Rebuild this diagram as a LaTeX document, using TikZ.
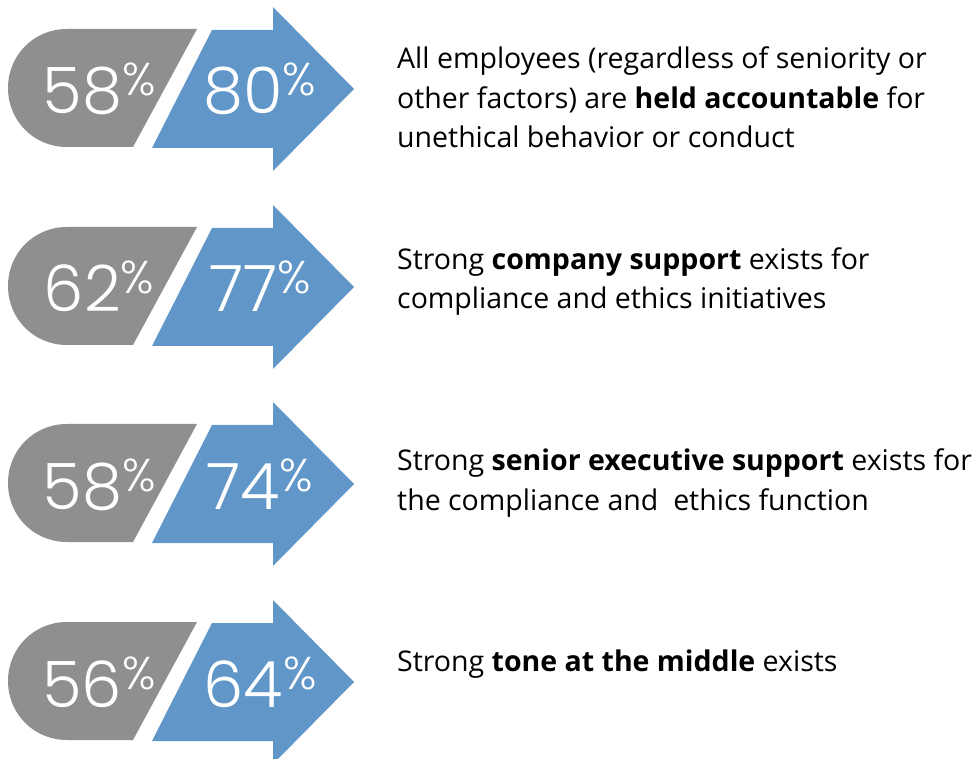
\documentclass[tikz,border=0pt]{standalone}
\usepackage{fontspec}
\setmainfont{Open Sans}
\newfontfamily\numfont{Poppins Light}
\definecolor{graybox}{HTML}{8F8F8F}
\definecolor{bluebox}{HTML}{6096C8}
\newcommand\pctnum[1]{#1\raisebox{18pt}{\fontsize{46}{46}\selectfont\%}}
\tikzset{
  numlabel/.style={text=white, font=\numfont\fontsize{64}{64}\selectfont, anchor=base, inner sep=0pt},
  desc/.style={anchor=base west, align=left, inner sep=0pt, font=\fontsize{28.5}{39.5}\selectfont, text=black},
  grayshape/.style={fill=graybox},
  blueshape/.style={fill=bluebox},
}
\begin{document}
\begin{tikzpicture}[x=1pt,y=-1pt]
\useasboundingbox (0,0) rectangle (978,759);
\foreach \c/\a/\b/\i in {89/58/80/1, 287/62/77/2, 484/58/74/3, 682/56/64/4}{
  \fill[grayshape] (197,\c-60) -- (133,\c+58) -- (67,\c+58)
     .. controls (34,\c+58) and (8,\c+32) .. (8,\c-1)
     .. controls (8,\c-34) and (34,\c-60) .. (67,\c-60) -- cycle;
  \fill[blueshape] (212,\c-59) -- (273,\c-59) -- (273,\c-82) -- (354,\c) -- (273,\c+82)
     -- (273,\c+59) -- (152,\c+59) -- cycle;
  \node[numlabel] (old\i) at (99,\c+25) {\pctnum{\a}};
  \node[numlabel] (new\i) at (260,\c+25) {\pctnum{\b}};
}
\node[desc] (t1) at (397,148) {All employees (regardless of seniority or\\other factors) are \textbf{held accountable} for\\unethical behavior or conduct};
\node[desc] (t2) at (397,309) {Strong \textbf{company support} exists for\\compliance and ethics initiatives};
\node[desc] (t3) at (397,510) {Strong \textbf{senior executive support} exists for\\the compliance and\ \ ethics function};
\node[desc] (t4) at (397,671) {Strong \textbf{tone at the middle} exists};
\end{tikzpicture}
\end{document}
